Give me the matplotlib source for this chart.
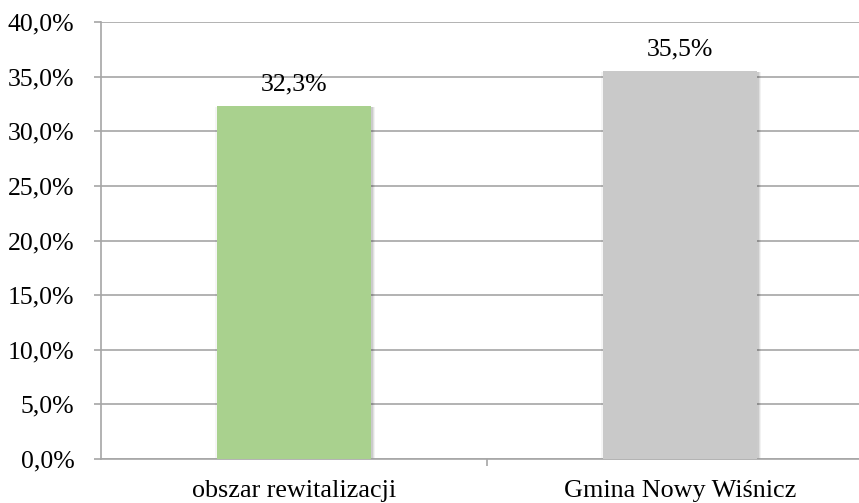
import matplotlib
matplotlib.use("Agg")
import matplotlib.pyplot as plt
import matplotlib.transforms as mtrans
from matplotlib.ticker import FuncFormatter, FixedLocator

categories = ["obszar rewitalizacji", "Gmina Nowy Wiśnicz"]
values = [32.3, 35.5]
colors = ["#A9D18E", "#C9C9C9"]
yticks = [0, 5, 10, 15, 20, 25, 30, 35, 40]

plt.rcParams['font.family'] = ['Liberation Serif', 'DejaVu Serif']

fig = plt.figure(figsize=(8.59, 5.03), dpi=100)
ax = fig.add_axes([101/859, 44/503, 772/859, 437/503])

x = list(range(len(categories)))
# soft shadow
for off, a in [(-2, 0.04), (4, 0.05), (3, 0.07), (2, 0.09)]:
    ax.bar(x, values, width=0.4, color="black", alpha=a, zorder=2,
           transform=ax.transData + mtrans.ScaledTranslation(off/100, -1/100, fig.dpi_scale_trans))
ax.bar(x, values, width=0.4, color=colors, zorder=3)

for xi, v in zip(x, values):
    ax.annotate(f"{v:.1f}%".replace(".", ","), (xi, v), xytext=(0, 8),
                textcoords="offset points", ha="center", va="bottom",
                fontsize=18.5, color="black")

ax.set_ylim(0, 40)
ax.set_xlim(-0.5, 1.5)
ax.set_yticks(yticks)
ax.yaxis.set_major_formatter(FuncFormatter(lambda v, p: f"{v:.1f}%".replace(".", ",")))
ax.grid(axis="y", color="#A6A6A6", linewidth=1.2, zorder=0)
ax.set_axisbelow(True)

ax.xaxis.set_major_locator(FixedLocator([0.5]))
ax.xaxis.set_major_formatter(FuncFormatter(lambda v, p: ""))
ax.set_xticks(x, categories, minor=True)
ax.tick_params(axis="x", which="minor", length=0, labelsize=18.8, pad=15)
ax.tick_params(axis="x", which="major", length=5, color="#A6A6A6", width=1.2)
ax.tick_params(axis="y", length=5, color="#A6A6A6", width=1.2, labelsize=18.5, pad=14)

for s in ["top", "right"]:
    ax.spines[s].set_visible(False)
for s in ["left", "bottom"]:
    ax.spines[s].set_color("#A6A6A6")
    ax.spines[s].set_linewidth(1.2)

fig.savefig("out.png", dpi=100)
